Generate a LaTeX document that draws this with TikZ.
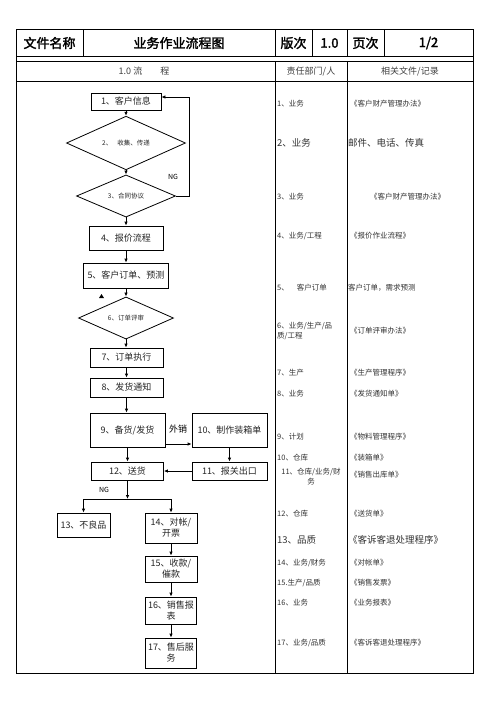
\documentclass[tikz,border=0pt]{standalone}
\usepackage{fontspec}
\setmainfont{Noto Sans CJK SC}[AutoFakeBold=2]
\usetikzlibrary{shapes.geometric,arrows.meta}
\begin{document}
\begin{tikzpicture}[x=1pt,y=-1pt,
  tline/.style={line width=1pt},
  box/.style={draw, line width=0.8pt, inner sep=0pt, align=center, font=\fontsize{9}{11}\selectfont, text=black!85},
  dia/.style={draw, diamond, line width=0.8pt, inner sep=0pt, font=\fontsize{6.5}{8}\selectfont, text=black!85},
  arr/.style={-{Latex[length=4pt,width=3.5pt]}, line width=0.8pt},
  hdr/.style={font=\fontsize{13}{15}\selectfont\bfseries, inner sep=0pt},
  sub/.style={font=\fontsize{9}{11}\selectfont, text=black!75, inner sep=0pt},
  sm/.style={font=\fontsize{7.5}{10}\selectfont, text=black!80, inner sep=0pt, anchor=west},
  lg/.style={font=\fontsize{9.5}{11}\selectfont, text=black!80, inner sep=0pt, anchor=west},
  lbl/.style={font=\fontsize{7}{8}\selectfont, inner sep=0pt}
]
\fill[white] (0,0) rectangle (496,702);
\useasboundingbox (0,0) rectangle (496,702);

% table
\draw[tline] (16,29) rectangle (473,673);
\draw[tline] (16,56) -- (473,56);
\draw[tline] (16,61.5) -- (473,61.5);
\draw[tline] (16,81) -- (473,81);
\foreach \x in {83,275,312,347,384} \draw[tline] (\x,29) -- (\x,56);
\foreach \x in {275,347} \draw[tline] (\x,61.5) -- (\x,673);

% header
\node[hdr] (h1) at (49.5,43) {文件名称};
\node[hdr] (h2) at (179,43) {业务作业流程图};
\node[hdr] (h3) at (293.5,43) {版次};
\node[hdr] (h4) at (329.5,43) {1.0};
\node[hdr] (h5) at (365.5,43) {页次};
\node[hdr] (h6) at (428.5,43) {1/2};
\node[sub] (s1) at (144,71.5) {1.0 流\hspace{18pt}程};
\node[sub] (s2) at (311,71.5) {责任部门/人};
\node[sub] (s3) at (410,71.5) {相关文件/记录};

% flowchart
\node[box, minimum width=70, minimum height=17] (b1) at (126,101.5) {1、客户信息};
\node[dia, minimum width=119, minimum height=40] (d2) at (126,143) {2、\hspace{5pt}收集、传递};
\node[dia, minimum width=99, minimum height=35] (d3) at (126,196) {3、合同协议};
\node[box, minimum width=74, minimum height=24] (b4) at (126,238) {4、报价流程};
\node[box, minimum width=85, minimum height=25] (b5) at (126,275.5) {5、客户订单、预测};
\node[dia, minimum width=95, minimum height=38] (d6) at (126,318) {6、订单评审};
\node[box, minimum width=73, minimum height=19] (b7) at (126.5,357.5) {7、订单执行};
\node[box, minimum width=73, minimum height=19] (b8) at (126.5,387.5) {8、发货通知};
\node[box, minimum width=75, minimum height=34] (b9) at (127.5,430) {9、备货/发货};
\node[box, minimum width=75, minimum height=34] (b10) at (229.5,430) {10、制作装箱单};
\node[box, minimum width=75, minimum height=18] (b11) at (229.5,471) {11、报关出口};
\node[box, minimum width=72, minimum height=18] (b12) at (127.5,471) {12、送货};
\node[box, minimum width=53, minimum height=24] (b13) at (83.5,525) {13、不良品};
\node[box, minimum width=52, minimum height=30] (b14) at (171,528) {14、对帐/\\开票};
\node[box, minimum width=52, minimum height=26] (b15) at (171,569) {15、收款/\\催款};
\node[box, minimum width=51, minimum height=27] (b16) at (171,610.5) {16、销售报\\表};
\node[box, minimum width=51, minimum height=30] (b17) at (171,653) {17、售后服\\务};

\node[lbl] (ng1) at (173,177) {NG};
\node[lbl] (ng2) at (104,490) {NG};
\node[font=\fontsize{9}{11}\selectfont, inner sep=0pt] (wx) at (178,429) {外销};
\fill (99,298) -- (104,298) -- (101.5,294) -- cycle;

\coordinate (fb) at (189,97);
\coordinate (j) at (127.5,499);

\draw[arr] (b1) -- (d2);
\draw[arr] (d2) -- (d3);
\draw[arr] (d3) -- (b4);
\draw[arr] (b4) -- (b5);
\draw[arr] (b5) -- (d6);
\draw[arr] (d6.south) -- (d6.south |- b7.north);
\draw[arr] (b7.south) -- (b7.south |- b8.north);
\draw[arr] (b8.south) -- (b8.south |- b9.north);
\draw[arr] (d3.east) -| (fb) -- (fb -| b1.east);
\draw[arr] ([yshift=-14pt]b9.east) -- ([yshift=-14pt]b10.west);
\draw[arr] (b10) -- (b11);
\draw[arr] (b11) -- (b12);
\draw[arr] (b9) -- (b12);
\draw[arr] (b12) -- (j);
\draw[arr] (j) -| (b13);
\draw[arr] (j) -| (b14);
\draw[arr] (b14) -- (b15);
\draw[arr] (b15) -- (b16);
\draw[arr] (b16) -- (b17);

% responsibility column
\node[sm] (r1) at (277,104) {1、业务};
\node[lg] (r2) at (277,143) {2、业务};
\node[sm] (r3) at (277,197) {3、业务};
\node[sm] (r4) at (277,236) {4、业务/工程};
\node[sm] (r5) at (277,288) {5、\hspace{8pt}客户订单};
\node[sm, align=left] (r6) at (277,331.5) {6、业务/生产/品\\质/工程};
\node[sm] (r7) at (277,373) {7、生产};
\node[sm] (r8) at (277,394) {8、业务};
\node[sm] (r9) at (277,437) {9、计划};
\node[sm] (r10) at (277,458) {10、仓库};
\node[sm, anchor=center, align=center] (r11) at (311,477) {11、仓库/业务/财\\务};
\node[sm] (r12) at (277,514) {12、仓库};
\node[lg] (r13) at (277,540) {13、品质};
\node[sm] (r14) at (277,563) {14、业务/财务};
\node[sm] (r15) at (277,583) {15.生产/品质};
\node[sm] (r16) at (277,603) {16、业务};
\node[sm] (r17) at (277,643) {17、业务/品质};

% documents column
\node[sm] (f1) at (350,104) {《客户财产管理办法》};
\node[lg] (f2) at (348,143) {邮件、电话、传真};
\node[sm] (f3) at (370,197) {《客户财产管理办法》};
\node[sm] (f4) at (350,236) {《报价作业流程》};
\node[sm] (f5) at (348,288) {客户订单，需求预测};
\node[sm] (f6) at (350,331) {《订单评审办法》};
\node[sm] (f7) at (350,373) {《生产管理程序》};
\node[sm] (f8) at (350,394) {《发货通知单》};
\node[sm] (f9) at (350,437) {《物料管理程序》};
\node[sm] (f10) at (350,458) {《装箱单》};
\node[sm] (f11) at (350,475) {《销售出库单》};
\node[sm] (f12) at (350,514) {《送货单》};
\node[lg] (f13) at (348,540) {《客诉客退处理程序》};
\node[sm] (f14) at (350,563) {《对帐单》};
\node[sm] (f15) at (350,583) {《销售发票》};
\node[sm] (f16) at (350,603) {《业务报表》};
\node[sm] (f17) at (350,643) {《客诉客退处理程序》};
\end{tikzpicture}
\end{document}
